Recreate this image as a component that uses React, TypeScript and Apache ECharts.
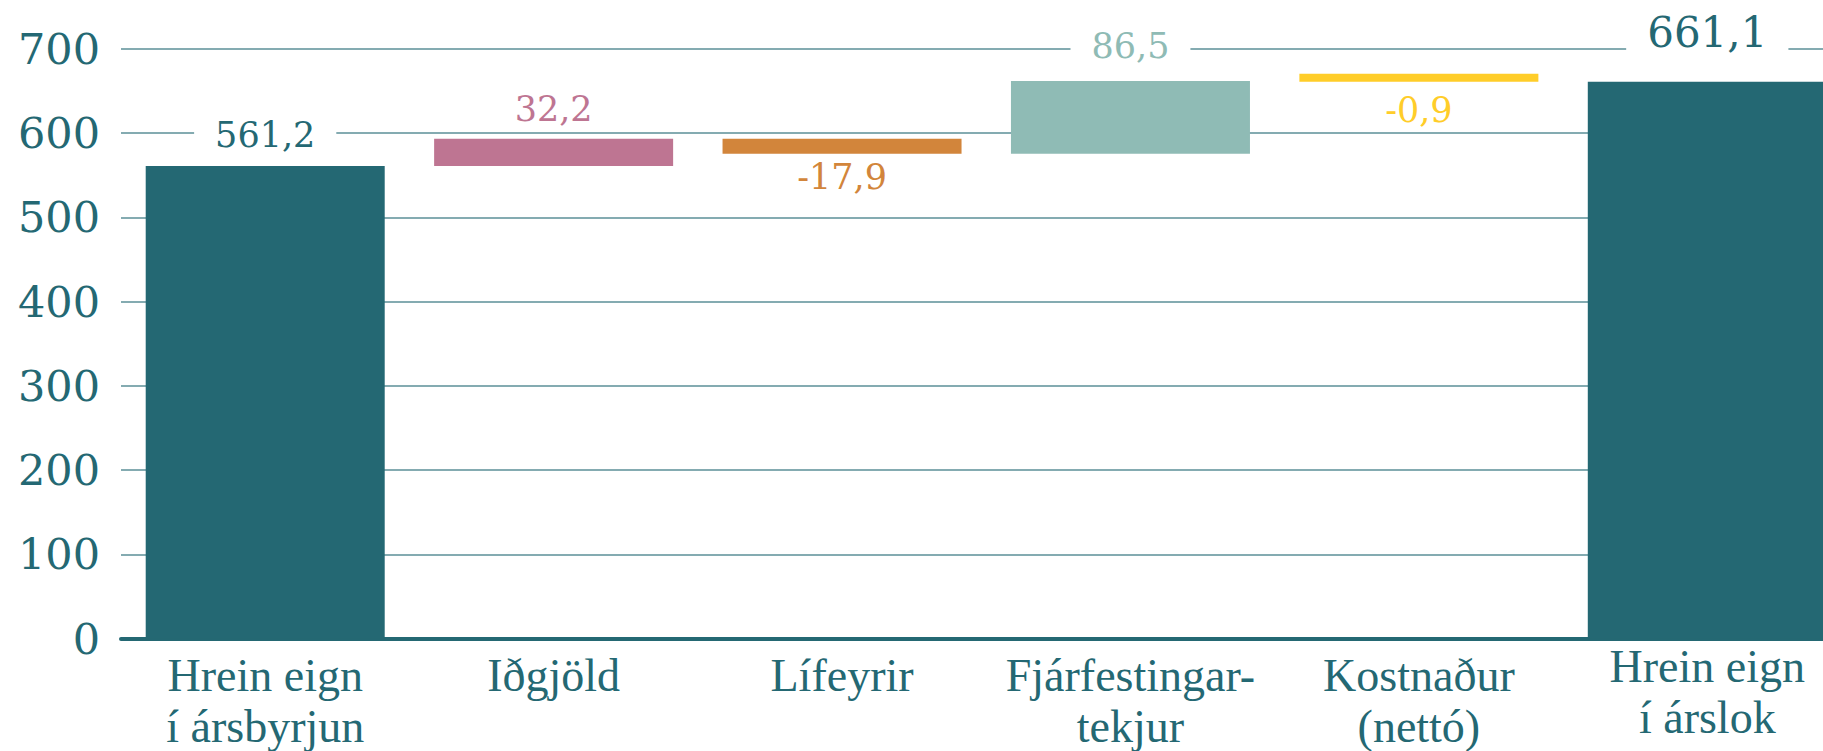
import React, { useEffect, useRef } from "react";
import * as echarts from "echarts";

// ---- data ----
const categories = [
  "Hrein eign\ní ársbyrjun",
  "Iðgjöld",
  "Lífeyrir",
  "Fjárfestingar-\ntekjur",
  "Kostnaður\n(nettó)",
  "Hrein eign\ní árslok",
];
const changes = [561.2, 32.2, -17.9, 86.5, -0.9, 661.1];
const isTotal = [true, false, false, false, false, true];
const yMin = 0;
const yMax = 700;
const yStep = 100;

// ---- styles ----
const DARK = "#246873";
const barColors = ["#246873", "#BE7592", "#D2853B", "#8FBBB5", "#FFCD29", "#246873"];
const labelFontSizes = [35, 35, 35, 35, 35, 42];
const labelGaps = [13.5, 12.5, 6, 17.5, 10.5, 28];
const catPadTop = [9, 9, 9, 9, 9, 0];

const fmt = (v: number) => v.toFixed(1).replace(".", ",");

export default function App() {
  const ref = useRef<HTMLDivElement>(null);

  useEffect(() => {
    if (!ref.current) return;
    const chart = echarts.init(ref.current, undefined, { renderer: "svg" });

    let running = 0;
    const base: number[] = [];
    const height: number[] = [];
    changes.forEach((v, i) => {
      if (isTotal[i]) {
        base.push(0);
        height.push(v);
        running = v;
      } else if (v >= 0) {
        base.push(running);
        height.push(v);
        running += v;
      } else {
        running += v;
        base.push(running);
        height.push(-v);
      }
    });

    const valueItems = height.map((h, i) => ({
      value: h,
      itemStyle: { color: barColors[i] },
      label: {
        show: true,
        position: changes[i] < 0 ? "bottom" : "top",
        distance: labelGaps[i],
        color: barColors[i],
        fontSize: labelFontSizes[i],
        lineHeight: labelFontSizes[i],
      },
    }));

    chart.setOption({
      animation: false,
      backgroundColor: "#ffffff",
      textStyle: { fontFamily: "DejaVu Serif" },
      grid: {
        left: 121,
        top: 49,
        width: 1730.5,
        height: 589.5,
        containLabel: false,
        outerBoundsMode: "none",
      },
      xAxis: {
        type: "category",
        data: categories.map((c, i) => ({
          value: c,
          textStyle: { padding: [catPadTop[i], 0, 0, 0] },
        })),
        axisLine: { show: true, lineStyle: { color: DARK, width: 4 } },
        axisTick: { show: false },
        axisLabel: {
          interval: 0,
          color: DARK,
          fontFamily: "Liberation Serif",
          fontSize: 46,
          lineHeight: 51,
          margin: 2,
        },
        z: 3,
      },
      yAxis: {
        type: "value",
        min: yMin,
        max: yMax,
        interval: yStep,
        axisLine: { show: false },
        axisTick: { show: false },
        axisLabel: {
          color: DARK,
          fontFamily: "DejaVu Serif",
          fontSize: 43,
          margin: 21,
          padding: [0, 0, 9, 0],
        },
        splitLine: { lineStyle: { color: "#5B8F97", width: 1.5 } },
      },
      series: [
        {
          name: "base",
          type: "bar",
          stack: "wf",
          barWidth: 239,
          silent: true,
          itemStyle: { color: "transparent" },
          data: base,
          z: 2,
        },
        {
          name: "value",
          type: "bar",
          stack: "wf",
          barWidth: 239,
          barMinHeight: 8,
          data: valueItems,
          z: 4,
          label: {
            show: true,
            fontFamily: "DejaVu Serif",
            backgroundColor: "#ffffff",
            padding: [0, 21],
            formatter: (p: any) => fmt(changes[p.dataIndex]),
          },
        },
      ],
    });

    return () => chart.dispose();
  }, []);

  return (
    <div
      ref={ref}
      style={{ position: "fixed", left: 0, top: 0, width: 1823, height: 751 }}
    />
  );
}
